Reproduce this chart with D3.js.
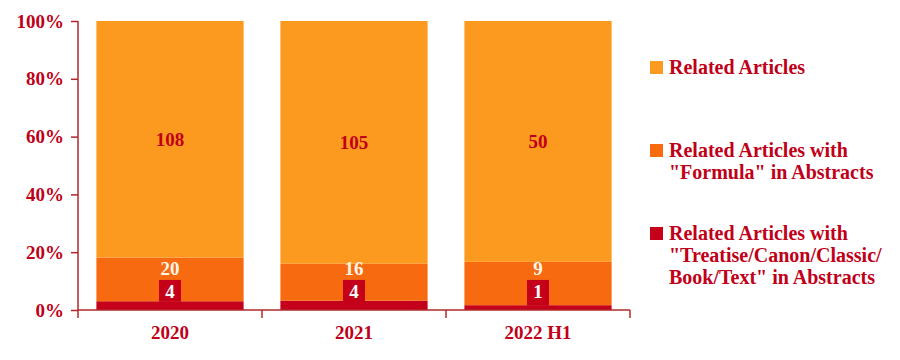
<!DOCTYPE html>
<html>
<head>
<meta charset="utf-8">
<script src="https://cdn.jsdelivr.net/npm/d3@7"></script>
<style>
  body { margin: 0; background: #fff; }
  text { font-family: "Liberation Serif", "Times New Roman", serif; font-weight: bold; }
</style>
</head>
<body>
<div id="chart"></div>
<script>
// data
var categories = ['2020', '2021', '2022 H1'];
var treatise = [4, 4, 1];      // "Treatise/Canon/Classic/Book/Text" in abstracts
var formula = [20, 16, 9];     // "Formula" in abstracts
var related = [108, 105, 50];  // related articles
var yTicks = [0, 0.2, 0.4, 0.6, 0.8, 1];
var legendLabels = [
  ['Related Articles'],
  ['Related Articles with', '"Formula" in Abstracts'],
  ['Related Articles with', '"Treatise/Canon/Classic/', 'Book/Text" in Abstracts']
];

var colRelated = '#fb9a1f', colFormula = '#f76a10', colTreatise = '#c4001a';
var darkRed = '#c00018';
var fs = '19px';

var width = 900, height = 360;
var svg = d3.select('#chart').append('svg')
  .attr('width', width).attr('height', height);

var x = d3.scaleBand().domain(categories).range([78, 630])
  .paddingInner(0.2).paddingOuter(0.1);
var y = d3.scaleLinear().domain([0, 1]).range([310, 21]);

// stack as shares of the total
var rows = categories.map(function(c, i) {
  var t = treatise[i] + formula[i] + related[i];
  return {cat: c, treatise: treatise[i] / t, formula: formula[i] / t, related: related[i] / t,
          n: [treatise[i], formula[i], related[i]]};
});
var keys = ['treatise', 'formula', 'related'];
var colors = [colTreatise, colFormula, colRelated];
var stack = d3.stack().keys(keys)(rows);

svg.append('g').selectAll('g')
  .data(stack).enter().append('g')
  .attr('fill', function(d, i) { return colors[i]; })
  .selectAll('rect')
  .data(function(d) { return d; }).enter().append('rect')
  .attr('x', function(d) { return x(d.data.cat); })
  .attr('width', x.bandwidth())
  .attr('y', function(d) { return y(d[1]); })
  .attr('height', function(d) { return y(d[0]) - y(d[1]); });

// axes
var yAxis = svg.append('g').attr('transform', 'translate(78,0)')
  .call(d3.axisLeft(y).tickValues(yTicks).tickFormat(d3.format('.0%')).tickSize(7).tickPadding(7));
var xAxis = svg.append('g').attr('transform', 'translate(0,310)')
  .call(d3.axisBottom(x).tickSize(0).tickPadding(16));
[yAxis, xAxis].forEach(function(a) {
  a.selectAll('path, line').attr('stroke', '#b0282a').attr('stroke-width', 1.5);
  a.selectAll('text').attr('fill', darkRed).style('font-size', fs)
    .style('font-family', '"Liberation Serif", serif').style('font-weight', 'bold');
});
yAxis.select('.domain').attr('d', 'M0,21V310');
xAxis.select('.domain').attr('d', 'M78,0H630');
// category separators on the x axis
svg.append('g').selectAll('line')
  .data([0, 1, 2, 3]).enter().append('line')
  .attr('x1', function(i) { return 78 + i * x.step(); })
  .attr('x2', function(i) { return 78 + i * x.step(); })
  .attr('y1', 310).attr('y2', 318)
  .attr('stroke', '#b0282a').attr('stroke-width', 1.5);

// value labels
var labels = svg.append('g');
var boxTop = y(0.104), smallLabelY = y(0.121);
rows.forEach(function(r, i) {
  var cx = x(r.cat) + x.bandwidth() / 2;
  var top0 = y(r.treatise);
  // small box holding the treatise count
  labels.append('rect').attr('x', cx - 11).attr('y', boxTop)
    .attr('width', 22).attr('height', top0 - boxTop + 0.5).attr('fill', colTreatise);
  labels.append('text').attr('x', cx).attr('y', boxTop + 18)
    .attr('text-anchor', 'middle').attr('fill', '#fff').style('font-size', fs)
    .text(r.n[0]);
  labels.append('text').attr('x', cx).attr('y', smallLabelY)
    .attr('text-anchor', 'middle').attr('fill', '#fff6e8').style('font-size', fs)
    .text(r.n[1]);
  var mid = (y(r.treatise + r.formula) + y(1)) / 2;
  labels.append('text').attr('x', cx).attr('y', mid + 7)
    .attr('text-anchor', 'middle').attr('fill', darkRed).style('font-size', fs)
    .text(r.n[2]);
});

// legend
var legendTop = [67, 150, 233];
var legColors = [colRelated, colFormula, colTreatise];
var leg = svg.append('g');
legendLabels.forEach(function(lines, i) {
  leg.append('rect').attr('x', 650).attr('y', legendTop[i] - 6)
    .attr('width', 13).attr('height', 13).attr('fill', legColors[i]);
  lines.forEach(function(t, j) {
    leg.append('text').attr('x', 669).attr('y', legendTop[i] + 7 + j * 22)
      .attr('fill', darkRed).style('font-size', '20px').text(t);
  });
});
</script>
</body>
</html>
